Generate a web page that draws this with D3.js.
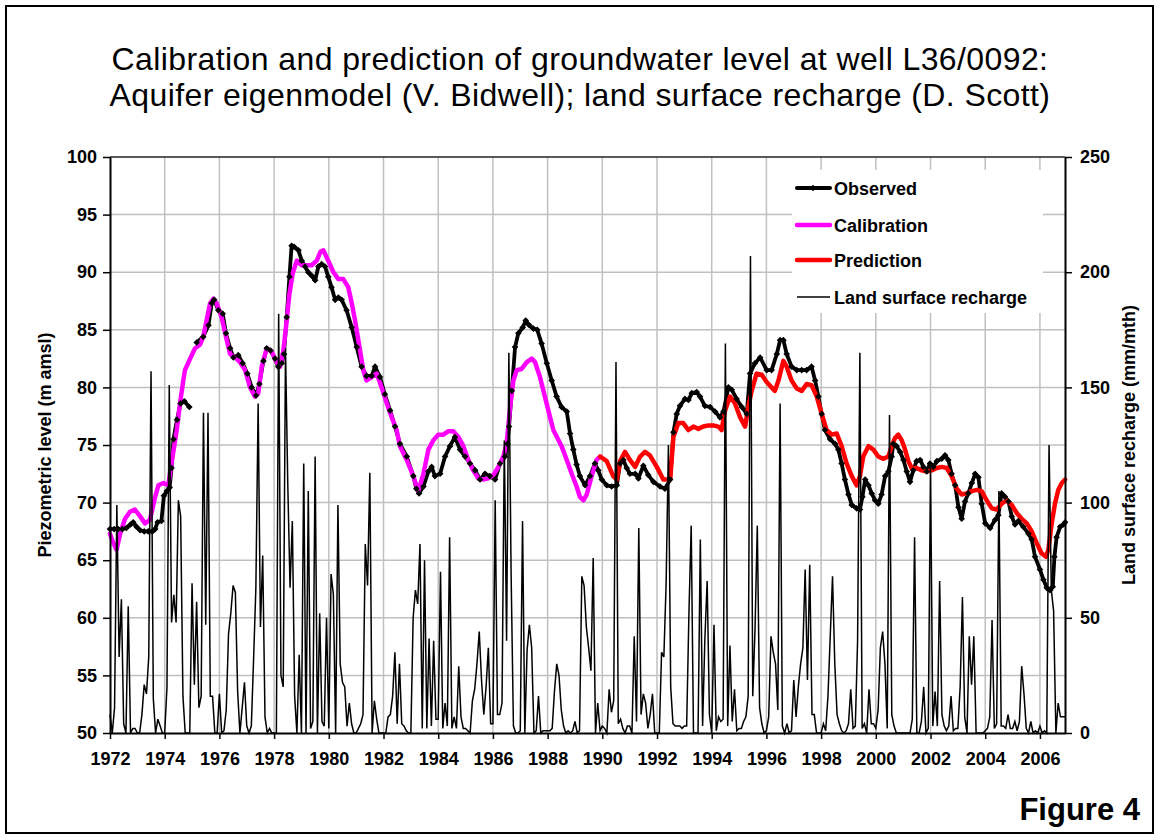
<!DOCTYPE html>
<html>
<head>
<meta charset="utf-8">
<script src="https://cdn.jsdelivr.net/npm/d3@7"></script>
<style>
body { margin: 0; background: #fff; }
svg { display: block; font-family: Arial, "Liberation Sans", sans-serif; }
</style>
</head>
<body>
<svg id="chart" width="1160" height="840"></svg>
<script>
const titleLines = [
  "Calibration and prediction of groundwater level at well L36/0092:",
  "Aquifer eigenmodel (V. Bidwell); land surface recharge (D. Scott)"
];
const levelTicks = [50, 55, 60, 65, 70, 75, 80, 85, 90, 95, 100];
const rechargeTicks = [0, 50, 100, 150, 200, 250];
const yearTicks = [1972, 1974, 1976, 1978, 1980, 1982, 1984, 1986, 1988, 1990,
  1992, 1994, 1996, 1998, 2000, 2002, 2004, 2006];
const legendNames = ["Observed", "Calibration", "Prediction", "Land surface recharge"];

// observed piezometric level [year, m amsl]; null = gap in record
const observed = [
  [1972.00, 67.7], [1972.15, 67.7], [1972.30, 67.7], [1972.45, 67.7], [1972.60, 67.8],
  [1972.75, 68.1], [1972.85, 68.3], [1972.97, 67.9], [1973.10, 67.6], [1973.25, 67.5],
  [1973.40, 67.5], [1973.55, 67.5], [1973.65, 67.7], [1973.74, 68.3], [1973.88, 68.4],
  [1973.97, 70.6], [1974.08, 71.0], [1974.18, 71.3], [1974.25, 73.0], [1974.32, 75.5],
  [1974.45, 77.2], [1974.58, 78.6], [1974.72, 78.8], [1974.90, 78.3],
  null,
  [1975.17, 83.9], [1975.41, 84.4], [1975.60, 85.4], [1975.72, 87.3], [1975.81, 87.6],
  [1975.96, 86.7], [1976.12, 86.4], [1976.24, 84.7], [1976.39, 83.4], [1976.51, 82.6],
  [1976.69, 82.8], [1976.85, 82.1], [1977.02, 81.2], [1977.18, 80.0], [1977.34, 79.3],
  [1977.46, 80.3], [1977.61, 82.3], [1977.73, 83.4], [1977.87, 83.2], [1978.03, 82.5],
  [1978.15, 81.8], [1978.28, 82.1], [1978.36, 82.9], [1978.46, 86.1], [1978.56, 89.6],
  [1978.64, 92.3], [1978.73, 92.2], [1978.89, 91.9], [1979.01, 91.0], [1979.13, 90.5],
  [1979.25, 90.0], [1979.37, 89.7], [1979.50, 89.3], [1979.62, 90.5], [1979.74, 90.7],
  [1979.86, 90.5], [1979.98, 89.6], [1980.10, 88.7], [1980.23, 87.6], [1980.35, 87.8],
  [1980.47, 87.6], [1980.65, 86.7], [1980.84, 85.2], [1981.02, 83.5], [1981.20, 81.8],
  [1981.38, 81.0], [1981.57, 81.0], [1981.69, 81.8], [1981.87, 80.9], [1982.05, 79.4],
  [1982.24, 78.0], [1982.42, 76.6], [1982.60, 75.1], [1982.85, 74.0], [1983.09, 72.3],
  [1983.20, 71.2], [1983.30, 70.8], [1983.46, 71.4], [1983.64, 72.7], [1983.76, 73.1],
  [1983.88, 72.3], [1984.07, 72.5], [1984.25, 74.0], [1984.43, 74.9], [1984.61, 75.7],
  [1984.80, 74.6], [1984.98, 74.0], [1985.16, 73.4], [1985.35, 72.8], [1985.53, 72.0],
  [1985.71, 72.5], [1985.89, 72.3], [1986.08, 72.0], [1986.26, 73.4], [1986.44, 74.0],
  [1986.53, 75.1], [1986.59, 76.6], [1986.69, 79.7], [1986.81, 83.5], [1986.93, 84.7],
  [1987.09, 85.2], [1987.20, 85.8], [1987.33, 85.4], [1987.48, 85.1], [1987.62, 85.0],
  [1987.78, 83.8], [1987.97, 82.1], [1988.15, 80.6], [1988.33, 79.2], [1988.51, 78.3],
  [1988.70, 77.9], [1988.82, 76.0], [1988.94, 74.6], [1989.06, 73.3], [1989.18, 72.3],
  [1989.37, 71.5], [1989.55, 72.3], [1989.73, 73.4], [1989.85, 72.8], [1989.98, 72.0],
  [1990.16, 71.5], [1990.34, 71.4], [1990.53, 71.5], [1990.65, 73.4], [1990.77, 73.7],
  [1990.89, 73.0], [1991.01, 72.5], [1991.20, 72.5], [1991.32, 72.1], [1991.50, 73.2],
  [1991.68, 72.4], [1991.87, 71.8], [1992.11, 71.4], [1992.29, 71.2], [1992.48, 72.0],
  [1992.60, 76.1], [1992.72, 77.7], [1992.84, 78.4], [1993.02, 79.0], [1993.15, 78.9],
  [1993.27, 79.5], [1993.45, 79.6], [1993.57, 79.2], [1993.75, 78.4], [1993.94, 78.3],
  [1994.12, 77.9], [1994.30, 77.4], [1994.43, 77.9], [1994.61, 80.0], [1994.73, 79.8],
  [1994.91, 79.0], [1995.10, 78.3], [1995.28, 77.7], [1995.40, 81.2], [1995.58, 82.1],
  [1995.77, 82.6], [1996.01, 81.5], [1996.19, 81.5], [1996.38, 82.9], [1996.50, 84.1],
  [1996.62, 84.1], [1996.74, 82.9], [1996.92, 81.8], [1997.11, 81.5], [1997.29, 81.5],
  [1997.47, 81.5], [1997.65, 81.8], [1997.78, 80.6], [1997.90, 79.2], [1998.02, 77.7],
  [1998.14, 76.3], [1998.33, 75.5], [1998.51, 75.1], [1998.63, 74.6], [1998.75, 73.4],
  [1998.87, 72.0], [1999.00, 70.7], [1999.12, 69.8], [1999.30, 69.5], [1999.42, 69.4],
  [1999.51, 70.5], [1999.61, 72.0], [1999.73, 71.5], [1999.85, 70.8], [1999.97, 70.2],
  [2000.09, 69.9], [2000.21, 70.7], [2000.34, 72.3], [2000.46, 72.7], [2000.58, 74.0],
  [2000.64, 75.1], [2000.76, 74.9], [2000.89, 74.4], [2001.01, 73.7], [2001.13, 72.7],
  [2001.25, 71.8], [2001.37, 72.8], [2001.49, 73.6], [2001.62, 73.7], [2001.74, 73.1],
  [2001.86, 72.7], [2001.98, 73.4], [2002.10, 73.1], [2002.23, 73.6], [2002.41, 73.8],
  [2002.53, 74.1], [2002.65, 73.7], [2002.77, 72.5], [2002.90, 71.5], [2003.02, 69.6],
  [2003.14, 68.6], [2003.26, 70.1], [2003.38, 70.8], [2003.51, 71.7], [2003.63, 72.5],
  [2003.75, 72.2], [2003.87, 69.9], [2004.00, 68.2], [2004.18, 67.8], [2004.36, 68.5],
  [2004.48, 68.9], [2004.60, 70.8], [2004.72, 70.5], [2004.85, 70.1], [2004.97, 68.8],
  [2005.09, 68.1], [2005.21, 68.4], [2005.39, 67.9], [2005.58, 67.3], [2005.70, 66.8],
  [2005.82, 65.3], [2006.00, 64.2], [2006.13, 63.3], [2006.25, 62.6], [2006.37, 62.4],
  [2006.47, 62.7], [2006.53, 65.3], [2006.61, 67.0], [2006.74, 67.9], [2006.86, 68.1],
  [2006.92, 68.3]
];

// model calibration [year, m amsl]
const calibration = [
  [1972.00, 67.3], [1972.12, 66.5], [1972.24, 65.9], [1972.37, 67.3], [1972.55, 68.6],
  [1972.73, 69.2], [1972.91, 69.4], [1973.10, 68.8], [1973.28, 68.2], [1973.46, 68.5],
  [1973.65, 70.5], [1973.77, 71.5], [1973.95, 71.7], [1974.13, 71.5], [1974.25, 73.4],
  [1974.38, 75.4], [1974.44, 76.3], [1974.56, 78.6], [1974.68, 80.6], [1974.74, 81.5],
  [1974.93, 82.5], [1975.11, 83.4], [1975.29, 83.7], [1975.41, 84.4], [1975.53, 85.8],
  [1975.66, 87.3], [1975.78, 87.7], [1975.90, 87.3], [1976.08, 86.1], [1976.27, 84.1],
  [1976.39, 82.9], [1976.57, 82.6], [1976.75, 82.2], [1976.94, 81.5], [1977.12, 80.0],
  [1977.30, 79.2], [1977.42, 79.5], [1977.55, 81.8], [1977.73, 83.4], [1977.91, 83.1],
  [1978.09, 82.2], [1978.22, 81.8], [1978.34, 83.2], [1978.46, 85.8], [1978.56, 88.1],
  [1978.68, 89.9], [1978.83, 91.0], [1979.01, 90.6], [1979.19, 90.6], [1979.37, 90.6],
  [1979.56, 91.0], [1979.70, 91.8], [1979.80, 91.9], [1979.98, 91.0], [1980.17, 90.0],
  [1980.35, 89.4], [1980.53, 89.4], [1980.71, 88.7], [1980.84, 87.3], [1980.96, 85.8],
  [1981.08, 84.1], [1981.26, 81.5], [1981.38, 80.6], [1981.57, 80.9], [1981.75, 81.2],
  [1981.93, 80.0], [1982.12, 78.6], [1982.30, 77.4], [1982.48, 76.3], [1982.60, 74.9],
  [1982.85, 73.7], [1983.09, 72.3], [1983.27, 71.0], [1983.46, 72.5], [1983.64, 74.6],
  [1983.82, 75.4], [1984.00, 75.9], [1984.19, 75.9], [1984.37, 76.2], [1984.55, 76.2],
  [1984.74, 75.7], [1984.92, 74.9], [1985.10, 73.7], [1985.28, 72.8], [1985.47, 72.1],
  [1985.65, 72.0], [1985.83, 72.1], [1986.02, 72.4], [1986.20, 73.1], [1986.38, 74.0],
  [1986.50, 75.1], [1986.63, 78.3], [1986.75, 80.6], [1986.87, 81.5], [1987.05, 81.6],
  [1987.24, 82.2], [1987.42, 82.5], [1987.54, 82.2], [1987.72, 80.9], [1987.90, 79.2],
  [1988.09, 77.4], [1988.21, 76.3], [1988.51, 74.9], [1988.70, 73.7], [1988.88, 72.5],
  [1989.06, 71.4], [1989.18, 70.5], [1989.31, 70.2], [1989.43, 70.7], [1989.61, 72.3],
  [1989.79, 73.7], [1989.92, 74.0]
];

// model prediction [year, m amsl]
const prediction = [
  [1989.92, 74.0], [1990.16, 73.6], [1990.40, 72.3], [1990.53, 72.0], [1990.65, 73.6],
  [1990.83, 74.4], [1991.01, 73.7], [1991.20, 73.1], [1991.38, 74.0], [1991.56, 74.4],
  [1991.74, 74.1], [1991.99, 73.1], [1992.23, 72.0], [1992.48, 72.0], [1992.60, 75.7],
  [1992.78, 76.9], [1992.96, 76.9], [1993.15, 76.3], [1993.33, 76.6], [1993.51, 76.4],
  [1993.69, 76.6], [1993.88, 76.7], [1994.06, 76.7], [1994.24, 76.6], [1994.36, 76.3],
  [1994.49, 78.0], [1994.67, 79.2], [1994.85, 78.6], [1995.04, 77.4], [1995.22, 76.6],
  [1995.34, 78.3], [1995.46, 79.7], [1995.64, 81.2], [1995.83, 81.1], [1996.00, 80.5],
  [1996.19, 80.0], [1996.31, 79.7], [1996.44, 80.6], [1996.62, 82.3], [1996.74, 81.8],
  [1996.92, 80.6], [1997.11, 79.9], [1997.29, 79.7], [1997.47, 80.3], [1997.65, 80.2],
  [1997.84, 79.2], [1998.02, 77.7], [1998.20, 76.3], [1998.39, 75.9], [1998.57, 76.0],
  [1998.75, 74.9], [1998.93, 73.4], [1999.12, 72.3], [1999.30, 71.5], [1999.42, 72.3],
  [1999.54, 74.0], [1999.73, 74.9], [1999.91, 74.6], [2000.09, 74.0], [2000.28, 73.8],
  [2000.46, 74.0], [2000.58, 74.9], [2000.70, 75.6], [2000.82, 75.9], [2000.95, 75.4],
  [2001.07, 74.6], [2001.19, 73.6], [2001.31, 73.0], [2001.49, 73.0], [2001.68, 72.8],
  [2001.86, 72.7], [2002.04, 72.8], [2002.23, 73.0], [2002.41, 73.1], [2002.59, 73.0],
  [2002.77, 72.3], [2002.96, 71.2], [2003.14, 70.7], [2003.32, 70.8], [2003.51, 71.0],
  [2003.69, 71.1], [2003.87, 71.0], [2004.05, 70.2], [2004.24, 69.5], [2004.42, 69.4],
  [2004.60, 69.9], [2004.78, 70.2], [2004.97, 69.8], [2005.15, 69.1], [2005.33, 68.6],
  [2005.52, 68.2], [2005.70, 67.5], [2005.88, 66.5], [2006.06, 65.6], [2006.22, 65.3],
  [2006.31, 65.9], [2006.43, 68.2], [2006.55, 69.9], [2006.67, 71.1], [2006.80, 71.7],
  [2006.92, 72.0]
];

// monthly land surface recharge (mm/mth), Jan 1972 .. Dec 2006, one row per year
const rechargeStart = 1972;
const recharge = [
  8, 0, 11, 99, 33, 58, 4, 0, 55, 0, 2, 2,            // 1972
  0, 0, 8, 21, 17, 33, 157, 15, 0, 6, 3, 0,           // 1973
  0, 20, 151, 48, 60, 48, 101, 94, 16, 0, 0, 0,       // 1974
  65, 21, 57, 11, 16, 139, 47, 139, 16, 16, 0, 0,     // 1975
  17, 0, 1, 10, 43, 52, 64, 61, 18, 0, 11, 22,        // 1976
  3, 0, 3, 32, 63, 143, 46, 77, 7, 0, 2, 0,           // 1977
  0, 0, 182, 25, 20, 167, 108, 63, 92, 16, 0, 34,     // 1978
  0, 117, 0, 105, 2, 5, 120, 0, 52, 5, 3, 50,         // 1979
  2, 69, 60, 0, 99, 30, 22, 20, 3, 13, 4, 0,          // 1980
  0, 2, 4, 8, 82, 64, 113, 0, 14, 6, 0, 0,            // 1981
  0, 0, 7, 8, 16, 35, 4, 30, 4, 3, 1, 0,              // 1982
  0, 50, 62, 56, 82, 2, 75, 2, 41, 3, 40, 6,          // 1983
  6, 70, 2, 13, 3, 85, 2, 7, 2, 29, 7, 2,             // 1984
  2, 1, 0, 14, 19, 30, 44, 23, 8, 20, 37, 4,          // 1985
  4, 101, 8, 8, 13, 127, 40, 165, 68, 3, 0, 0,        // 1986
  1, 92, 0, 36, 47, 37, 0, 1, 16, 0, 1, 1,            // 1987
  1, 1, 2, 18, 30, 25, 10, 3, 0, 1, 0, 1,             // 1988
  5, 0, 1, 68, 64, 46, 37, 27, 76, 0, 13, 1,          // 1989
  3, 2, 0, 19, 9, 14, 161, 4, 6, 2, 0, 3,             // 1990
  3, 0, 42, 5, 89, 8, 17, 13, 2, 8, 17, 0,            // 1991
  0, 0, 35, 33, 65, 125, 20, 4, 3, 3, 3, 2,           // 1992
  3, 3, 52, 90, 0, 0, 0, 84, 3, 41, 66, 8,            // 1993
  0, 47, 1, 7, 5, 6, 169, 3, 38, 5, 19, 1,            // 1994
  2, 2, 5, 7, 16, 207, 16, 45, 90, 11, 4, 0,          // 1995
  1, 7, 42, 35, 30, 10, 143, 3, 0, 4, 0, 1,           // 1996
  23, 7, 20, 30, 37, 71, 23, 73, 8, 8, 0, 0,          // 1997
  0, 4, 1, 16, 42, 68, 30, 8, 4, 1, 0, 1,             // 1998
  4, 19, 2, 3, 40, 165, 2, 4, 0, 19, 4, 4,            // 1999
  2, 10, 37, 44, 30, 2, 138, 8, 3, 0, 0, 0,           // 2000
  0, 0, 0, 0, 6, 85, 0, 0, 5, 20, 0, 2,               // 2001
  115, 3, 18, 3, 66, 8, 3, 1, 3, 16, 1, 2,            // 2002
  2, 20, 59, 7, 0, 42, 21, 42, 0, 0, 0, 0,            // 2003
  1, 2, 7, 49, 2, 4, 105, 3, 3, 2, 8, 2,              // 2004
  2, 5, 1, 5, 29, 17, 2, 0, 5, 0, 1, 0,               // 2005
  3, 0, 1, 0, 125, 62, 53, 0, 13, 7, 7, 7             // 2006
];

const svg = d3.select("#chart");
const plot = { left: 110, right: 1065, top: 157, bottom: 733 };

const x = d3.scaleLinear()
  .domain([rechargeStart, rechargeStart + (recharge.length - 1) / 12])
  .range([plot.left, plot.right]);
const yLevel = d3.scaleLinear().domain([50, 100]).range([plot.bottom, plot.top]);
const yRech = d3.scaleLinear().domain([0, 250]).range([plot.bottom, plot.top]);

svg.append("rect").attr("width", 1160).attr("height", 840).attr("fill", "#fff");

// outer frame
svg.append("rect")
  .attr("x", 6).attr("y", 6).attr("width", 1147).attr("height", 827)
  .attr("fill", "none").attr("stroke", "#000").attr("stroke-width", 2);

// title
svg.append("g").selectAll("text")
  .data(titleLines)
  .join("text")
  .attr("x", 580)
  .attr("y", (d, i) => 70 + i * 36)
  .attr("text-anchor", "middle")
  .attr("font-size", 32)
  .attr("letter-spacing", 0.4)
  .text(d => d);

// grid
const grid = svg.append("g").attr("stroke", "#c0c0c0").attr("stroke-width", 1.5);
grid.selectAll(".vg")
  .data(yearTicks.slice(1))
  .join("line")
  .attr("x1", d => x(d)).attr("x2", d => x(d))
  .attr("y1", plot.top).attr("y2", plot.bottom);
grid.selectAll(".hg")
  .data(levelTicks.slice(1, -1))
  .join("line")
  .attr("x1", plot.left).attr("x2", plot.right)
  .attr("y1", d => yLevel(d)).attr("y2", d => yLevel(d));

// top border of plot area
svg.append("line")
  .attr("x1", plot.left).attr("x2", plot.right)
  .attr("y1", plot.top).attr("y2", plot.top)
  .attr("stroke", "#222").attr("stroke-width", 1.5);

// series lines
const levelLine = d3.line()
  .defined(d => d !== null)
  .x(d => x(d[0]))
  .y(d => yLevel(d[1]));

svg.append("path")
  .attr("d", levelLine(observed))
  .attr("fill", "none").attr("stroke", "#000").attr("stroke-width", 3.8)
  .attr("stroke-linejoin", "round");

svg.append("path")
  .attr("d", levelLine(calibration))
  .attr("fill", "none").attr("stroke", "#ff00ff").attr("stroke-width", 4.5)
  .attr("stroke-linejoin", "round").attr("stroke-linecap", "round");

svg.append("path")
  .attr("d", levelLine(prediction))
  .attr("fill", "none").attr("stroke", "#ff0000").attr("stroke-width", 4.5)
  .attr("stroke-linejoin", "round").attr("stroke-linecap", "round");

// observed markers (small diamonds)
const diamond = "M0,-3.3L3.3,0L0,3.3L-3.3,0Z";
svg.append("g").selectAll("path")
  .data(observed.filter(d => d !== null))
  .join("path")
  .attr("transform", d => `translate(${x(d[0])},${yLevel(d[1])})`)
  .attr("d", diamond)
  .attr("fill", "#000");

// recharge on secondary axis
const rechargeLine = d3.line()
  .x((d, i) => x(rechargeStart + i / 12))
  .y(d => yRech(d));

svg.append("path")
  .attr("d", rechargeLine(recharge))
  .attr("fill", "none").attr("stroke", "#000").attr("stroke-width", 1.5)
  .attr("stroke-linejoin", "miter");

// axes
function styleAxis(g) {
  g.select(".domain").attr("stroke", "#000").attr("stroke-width", 2);
  g.selectAll(".tick line").attr("stroke", "#000").attr("stroke-width", 1.5);
  g.selectAll("text")
    .attr("font-family", "Arial, 'Liberation Sans', sans-serif")
    .attr("font-size", 18)
    .attr("font-weight", "bold")
    .attr("fill", "#000");
}

svg.append("g")
  .attr("transform", `translate(${plot.left},0)`)
  .call(d3.axisLeft(yLevel).tickValues(levelTicks).tickSize(7).tickSizeOuter(0).tickPadding(6))
  .call(styleAxis);

svg.append("g")
  .attr("transform", `translate(${plot.right},0)`)
  .call(d3.axisRight(yRech).tickValues(rechargeTicks).tickSize(7).tickSizeOuter(0).tickPadding(8))
  .call(styleAxis);

svg.append("g")
  .attr("transform", `translate(0,${plot.bottom})`)
  .call(d3.axisBottom(x).tickValues(yearTicks).tickFormat(d3.format("d"))
    .tickSize(6).tickSizeOuter(0).tickPadding(13))
  .call(styleAxis);

// axis titles
svg.append("text")
  .attr("transform", "translate(51,445) rotate(-90)")
  .attr("text-anchor", "middle")
  .attr("font-size", 18).attr("font-weight", "bold")
  .text("Piezometric level (m amsl)");

svg.append("text")
  .attr("transform", "translate(1135,445) rotate(-90)")
  .attr("text-anchor", "middle")
  .attr("font-size", 18).attr("font-weight", "bold")
  .text("Land surface recharge (mm/mth)");

// legend
const legend = svg.append("g");
legend.append("rect")
  .attr("x", 792).attr("y", 170).attr("width", 251).attr("height", 143)
  .attr("fill", "#fff");
const legendRows = [188, 225, 260, 297];
const legendStyles = [
  { color: "#000", width: 4 },
  { color: "#ff00ff", width: 4.5 },
  { color: "#ff0000", width: 4.5 },
  { color: "#000", width: 1.5 }
];
legendNames.forEach((name, i) => {
  const yy = legendRows[i];
  legend.append("line")
    .attr("x1", 797).attr("x2", 830).attr("y1", yy).attr("y2", yy)
    .attr("stroke", legendStyles[i].color)
    .attr("stroke-width", legendStyles[i].width)
    .attr("stroke-linecap", i < 3 ? "round" : "butt");
  if (i === 0) {
    legend.append("path")
      .attr("transform", `translate(813,${yy})`)
      .attr("d", diamond).attr("fill", "#000");
  }
  legend.append("text")
    .attr("x", 834).attr("y", yy + 6.5)
    .attr("font-size", 18).attr("font-weight", "bold")
    .text(name);
});

// figure label
svg.append("text")
  .attr("x", 1140).attr("y", 820)
  .attr("text-anchor", "end")
  .attr("font-size", 31).attr("font-weight", "bold")
  .text("Figure 4");
</script>
</body>
</html>
